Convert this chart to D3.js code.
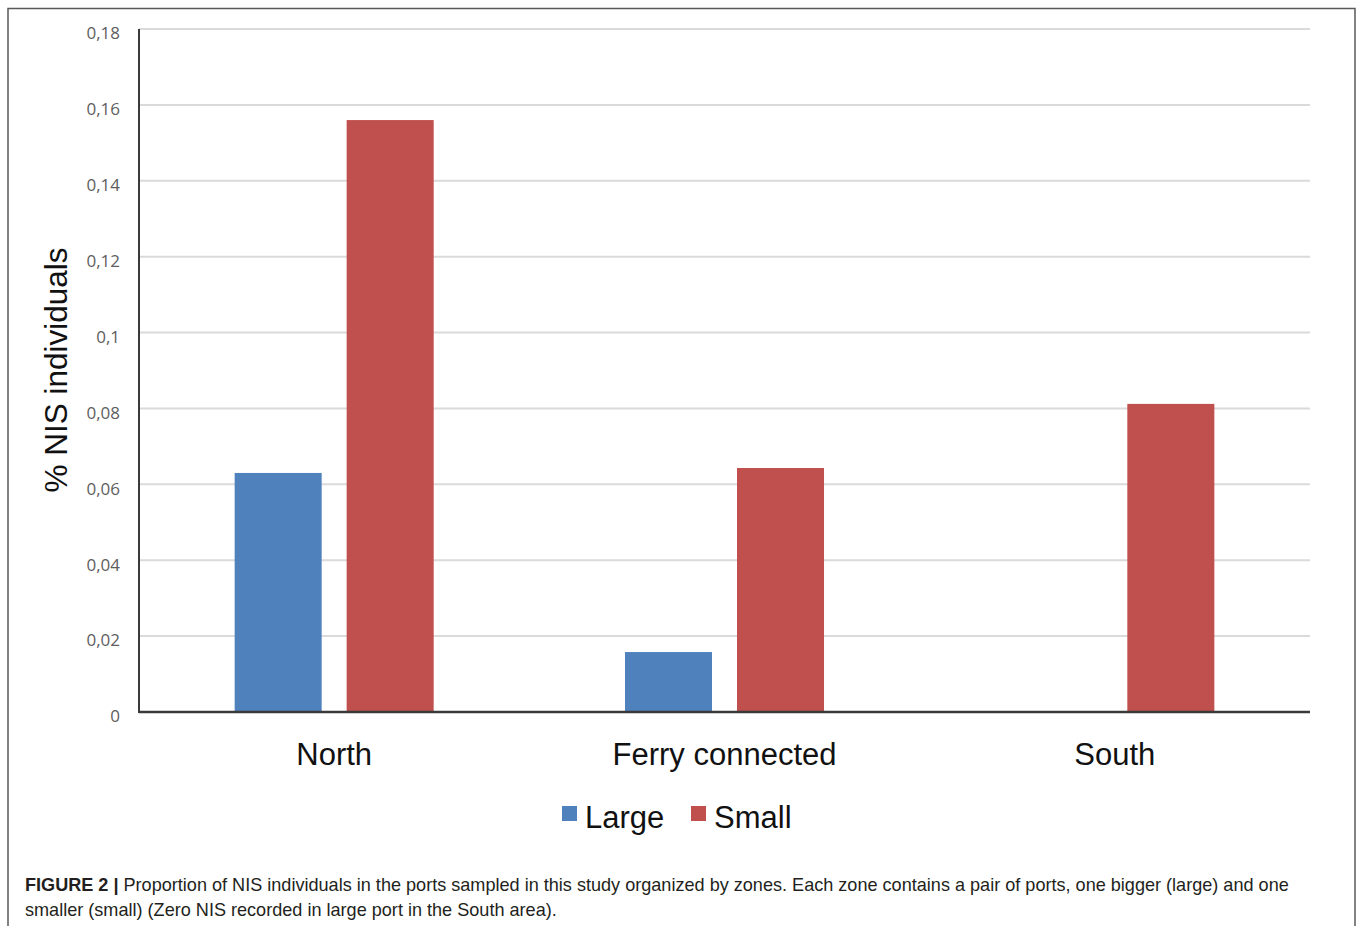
<!DOCTYPE html>
<html>
<head>
<meta charset="utf-8">
<script src="https://cdn.jsdelivr.net/npm/d3@7"></script>
<style>
  html, body { margin: 0; padding: 0; background: #fff; }
  svg { display: block; }
</style>
</head>
<body>
<svg id="chart" width="1358" height="926"></svg>
<script>
// zones and port sizes
var zones = ["North", "Ferry connected", "South"];
var sizes = ["Large", "Small"];
var largeValues = [0.063, 0.0158, 0];
var smallValues = [0.156, 0.0643, 0.0812];
var yTicks = [0, 0.02, 0.04, 0.06, 0.08, 0.1, 0.12, 0.14, 0.16, 0.18];
var sizeColors = { Large: "#4f81bd", Small: "#c0504d" };

var captionBold = "FIGURE 2 | ";
var captionLine1 = "Proportion of NIS individuals in the ports sampled in this study organized by zones. Each zone contains a pair of ports, one bigger (large) and one";
var captionLine2 = "smaller (small) (Zero NIS recorded in large port in the South area).";

var svg = d3.select("#chart");

// plot area (note: "top" is taken by window.top, so prefix these)
var plotLeft = 139, plotRight = 1310, plotTop = 29, plotBottom = 712;

var x0 = d3.scaleBand().domain(zones).range([plotLeft, plotRight]);
var x1 = d3.scaleBand().domain(sizes).range([0, x0.bandwidth()])
  .paddingInner(0.223).paddingOuter(0.854);
var y = d3.scaleLinear().domain([0, 0.18]).range([plotBottom, plotTop]);

// figure frame (open at the bottom, cropped)
svg.append("path")
  .attr("d", "M8,926 L8,8.5 L1355,8.5 L1355,926")
  .attr("fill", "none")
  .attr("stroke", "#5a5a5a")
  .attr("stroke-width", 1.5);

// grid lines
svg.append("g")
  .selectAll("line")
  .data(yTicks.filter(function (d) { return d > 0; }))
  .join("line")
  .attr("x1", plotLeft).attr("x2", plotRight)
  .attr("y1", function (d) { return y(d); })
  .attr("y2", function (d) { return y(d); })
  .attr("stroke", "#dadada")
  .attr("stroke-width", 2);

// y axis labels, comma decimals
var fmt = function (d) { return d === 0 ? "0" : String(d).replace(".", ","); };
var yAxis = d3.axisLeft(y).tickValues(yTicks).tickSize(0).tickPadding(19).tickFormat(fmt);
var yg = svg.append("g").attr("transform", "translate(" + plotLeft + ",0)").call(yAxis);
yg.select(".domain").remove();
yg.selectAll("text")
  .attr("font-family", "'Open Sans', 'Liberation Sans', sans-serif")
  .attr("font-size", 17)
  .attr("fill", "#5e5e5e")
  .attr("dy", "0.58em");

// bars
var series = [
  { key: "Large", values: largeValues },
  { key: "Small", values: smallValues }
];
var groups = svg.append("g")
  .selectAll("g")
  .data(zones)
  .join("g")
  .attr("transform", function (d) { return "translate(" + x0(d) + ",0)"; });

groups.selectAll("rect")
  .data(function (zone, i) {
    return series.map(function (s) { return { key: s.key, value: s.values[i] }; })
      .filter(function (d) { return d.value > 0; });
  })
  .join("rect")
  .attr("x", function (d) { return x1(d.key); })
  .attr("width", x1.bandwidth())
  .attr("y", function (d) { return y(d.value); })
  .attr("height", function (d) { return y(0) - y(d.value); })
  .attr("fill", function (d) { return sizeColors[d.key]; });

// axis lines
svg.append("line")
  .attr("x1", plotLeft).attr("x2", plotLeft)
  .attr("y1", plotTop).attr("y2", plotBottom + 1)
  .attr("stroke", "#3a3a3a").attr("stroke-width", 2);
svg.append("line")
  .attr("x1", plotLeft).attr("x2", plotRight)
  .attr("y1", plotBottom).attr("y2", plotBottom)
  .attr("stroke", "#3a3a3a").attr("stroke-width", 2.5);

// category labels
var xAxis = d3.axisBottom(x0).tickSize(0).tickPadding(0);
var xg = svg.append("g").attr("transform", "translate(0," + plotBottom + ")").call(xAxis);
xg.select(".domain").remove();
xg.selectAll("text")
  .attr("font-family", "'Liberation Sans', Arial, sans-serif")
  .attr("font-size", 31)
  .attr("fill", "#111")
  .attr("dy", null)
  .attr("y", 53);

// y axis title
svg.append("text")
  .attr("transform", "translate(67,370) rotate(-90)")
  .attr("text-anchor", "middle")
  .attr("font-family", "'Liberation Sans', Arial, sans-serif")
  .attr("font-size", 31.5)
  .attr("fill", "#111")
  .text("% NIS individuals");

// legend
var legendX = [562, 691];
var legend = svg.append("g")
  .selectAll("g")
  .data(sizes)
  .join("g")
  .attr("transform", function (d, i) { return "translate(" + legendX[i] + ",806)"; });
legend.append("rect")
  .attr("width", 15).attr("height", 15)
  .attr("fill", function (d) { return sizeColors[d]; });
legend.append("text")
  .attr("x", 23).attr("y", 22)
  .attr("font-family", "'Liberation Sans', Arial, sans-serif")
  .attr("font-size", 31)
  .attr("fill", "#111")
  .text(function (d) { return d; });

// caption
var cap1 = svg.append("text")
  .attr("x", 25).attr("y", 891)
  .attr("font-family", "'Liberation Sans', Arial, sans-serif")
  .attr("font-size", 19)
  .attr("fill", "#231f20");
cap1.append("tspan").attr("font-weight", "bold").text(captionBold);
cap1.append("tspan").text(captionLine1);

var cap2 = svg.append("text")
  .attr("x", 25).attr("y", 916)
  .attr("font-family", "'Liberation Sans', Arial, sans-serif")
  .attr("font-size", 19)
  .attr("fill", "#231f20")
  .text(captionLine2);

// the caption face is narrower than Arial, squeeze to the printed width
var w1 = cap1.node().getComputedTextLength();
var k = (1289 - 25) / w1;
cap1.attr("transform", "translate(25,0) scale(" + k + ",1) translate(-25,0)");
cap2.attr("transform", "translate(25,0) scale(" + k + ",1) translate(-25,0)");
</script>
</body>
</html>
